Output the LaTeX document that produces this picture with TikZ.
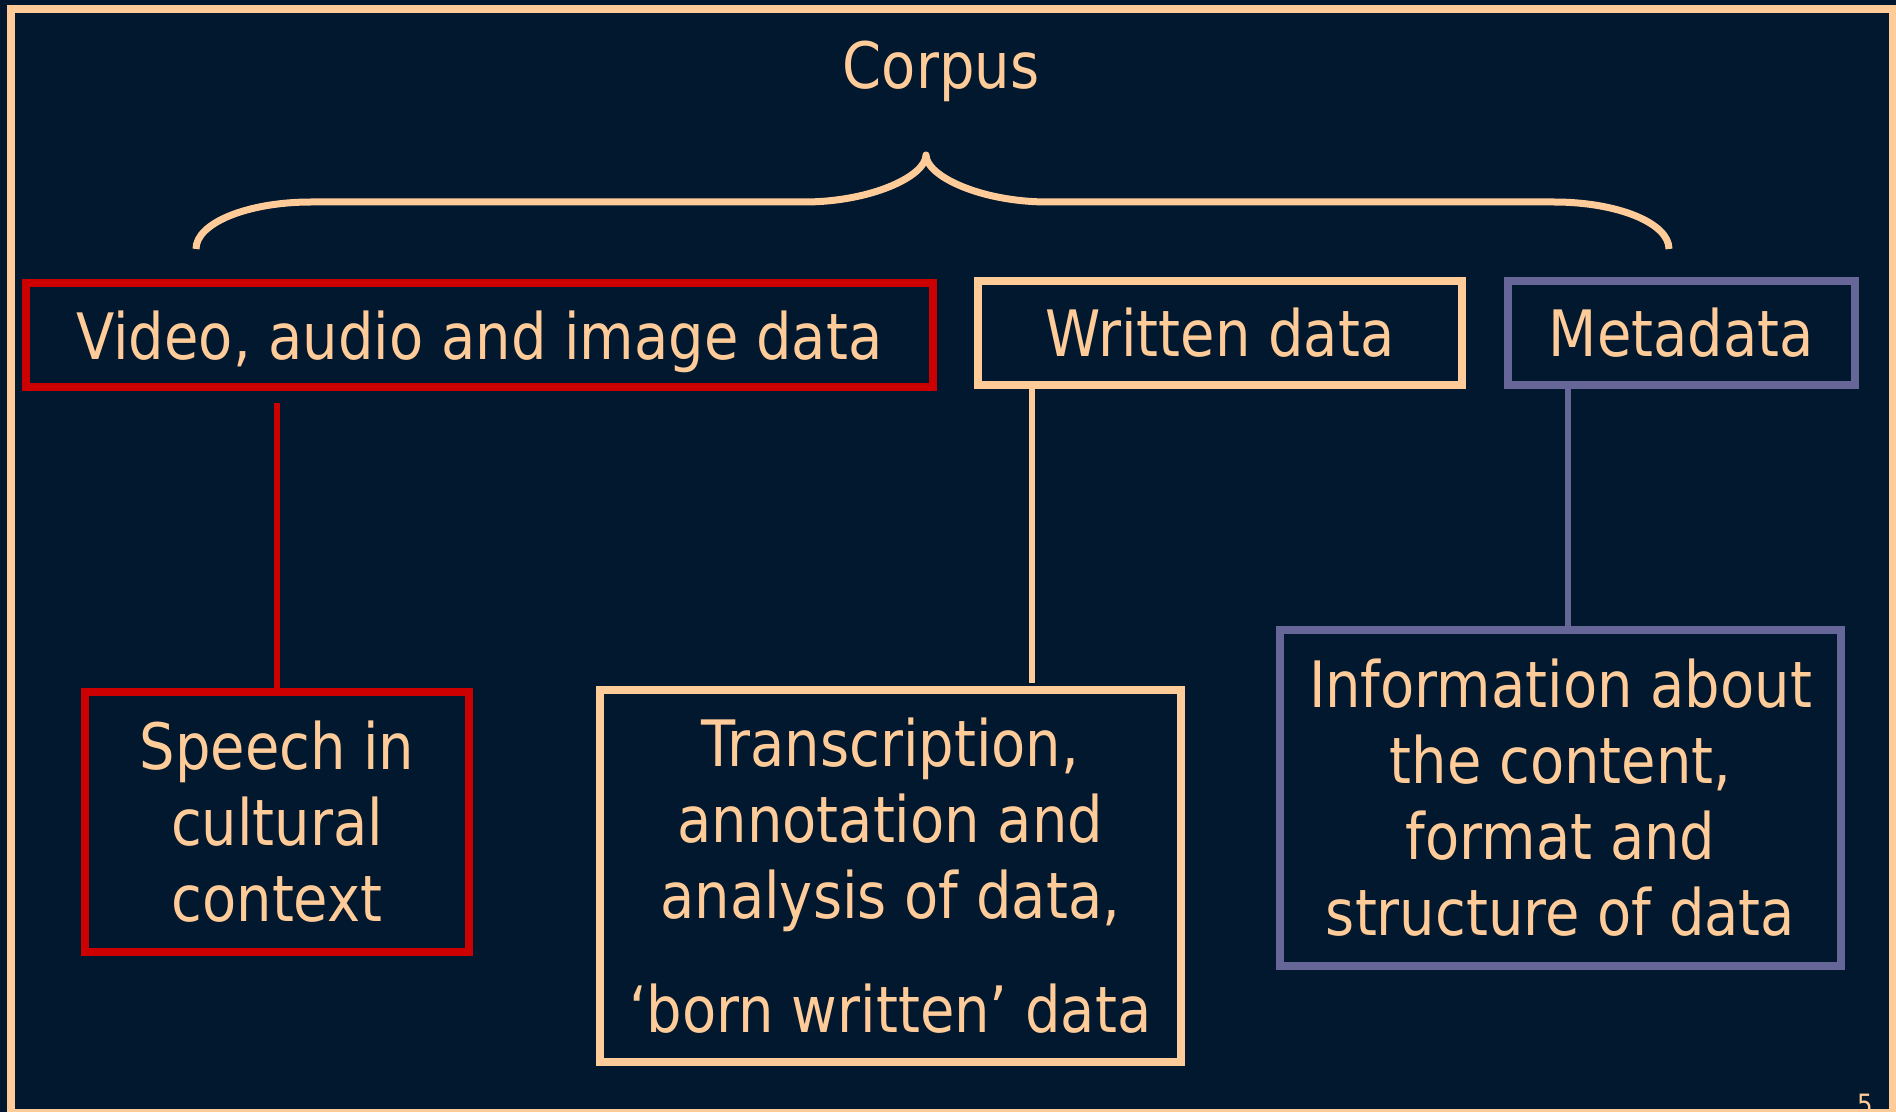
\documentclass[tikz,border=0pt]{standalone}
\usepackage{fontspec}
\setmainfont[FakeStretch=0.874]{DejaVu Sans}
\definecolor{navy}{HTML}{01182F}
\definecolor{peach}{HTML}{FFCC99}
\definecolor{crimson}{HTML}{CC0000}
\definecolor{slate}{HTML}{666699}
\begin{document}
\begin{tikzpicture}[x=0.5pt,y=-0.5pt,
  box/.style={draw, rectangle, line width=4pt, inner sep=0pt, outer sep=0pt,
    align=center, text=peach, font=\fontsize{32}{38}\selectfont},
  title/.style={text=peach, inner sep=0pt, font=\fontsize{32}{38}\selectfont},
  link/.style={line width=3pt},
  brace/.style={draw=peach, line width=3.5pt, line join=round}]
\useasboundingbox (0,0) rectangle (1896,1112);
\fill[navy] (0,0) rectangle (1896,1112);
% slide frame
\draw[peach, line width=4pt] (11,9) rectangle (1893,1113);

% title and brace
\node[title] (corpus) at (941,71) {Corpus};
\draw[brace] (196,249) .. controls (196,223) and (247.5,202) .. (311,202)
  -- (804,202) .. controls (871.4,202) and (926,176) .. (926,155)
  .. controls (926,176) and (980.6,202) .. (1048,202)
  -- (1554,202) .. controls (1617.5,202) and (1669,223) .. (1669,249);

% upper row
\node[box, draw=crimson, text depth=0pt, minimum width=453.75pt, minimum height=51.75pt]
  (video) at (479.25,335.25) {Video, audio and image data};
\node[box, draw=peach, minimum width=242pt, minimum height=52pt]
  (written) at (1220,333) {Written data};
\node[box, draw=slate, minimum width=173.75pt, minimum height=52pt]
  (meta) at (1681.25,333) {Metadata};

% lower row
\node[box, draw=crimson, minimum width=192pt, minimum height=130pt]
  (speech) at (277,822) {Speech in\\cultural\\context};
\node[box, draw=peach, minimum width=290.25pt, minimum height=186.25pt]
  (trans) at (890.25,875.75)
  {Transcription,\\annotation and\\analysis of data,\\[19pt]‘born written’ data};
\node[box, draw=slate, minimum width=280.5pt, minimum height=168pt]
  (info) at (1560.5,798)
  {Information about\\the content,\\format and\\structure of data};

% connectors
\coordinate (redtop) at (277,403);
\draw[link, crimson] (redtop) -- (speech.north);
\coordinate (wx) at (1032,0);
\coordinate (wbot) at (1032,683);
\draw[link, peach] (written.south -| wx) -- (wbot);
\coordinate (mx) at (1568,0);
\draw[link, slate, line width=2.75pt] (meta.south -| mx) -- (info.north -| mx);

% page number
\node[text=peach, inner sep=0pt, anchor=north, font=\fontsize{14}{16}\selectfont]
  (pagenum) at (1865,1094) {5};
\end{tikzpicture}
\end{document}
